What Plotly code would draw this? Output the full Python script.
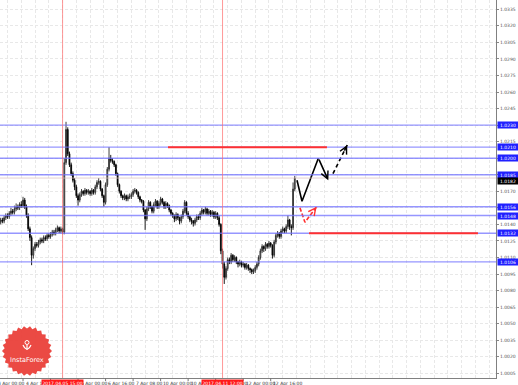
import numpy as np
import plotly.graph_objects as go

# ---------------- data (prices in pips above 1.0000) ----------------
time_ticks = [0, 16, 32, 48, 64, 80, 96, 112, 128, 144, 160]
time_labels = ["4 Apr 00:00", "4 Apr 16:00", "5 Apr 08:00", "6 Apr 00:00", "6 Apr 16:00",
               "7 Apr 08:00", "10 Apr 00:00", "10 Apr 16:00", "11 Apr 08:00",
               "12 Apr 00:00", "12 Apr 16:00"]

close_pips = [
    139, 140,
    142, 144, 143, 146, 148, 147, 150, 152, 151, 154,
    156, 155, 158, 157, 162, 156, 148, 136, 128, 112,
    118, 122, 121, 124, 126, 125, 128, 127, 130, 129,
    131, 133, 132, 135, 137, 134, 136, 133, 196, 226,
    204, 194, 186, 180, 174, 166, 162, 167, 170, 168,
    171, 169, 170, 168, 171, 169, 174, 178, 179, 172,
    166, 160, 176, 190, 200, 198, 197, 194, 186, 176,
    170, 166, 164, 166, 163, 165, 165, 167,
    170, 171, 169, 165, 162, 161, 153, 145, 154, 160,
    156, 152, 158, 161, 156, 159, 163, 160, 156, 159,
    157, 153, 150, 148, 145, 149, 146, 143, 147, 152,
    160, 150, 147, 144, 143, 141, 144, 147, 146, 150,
    153, 151, 154, 150, 152, 149, 151, 147, 150, 146,
    140, 116, 104, 92, 100, 108, 106, 112, 108, 110,
    106, 104, 106, 103, 104, 101, 103, 100, 99, 97,
    98, 101, 104, 110, 116, 120, 118, 122, 120, 123,
    121, 112, 124, 130, 132, 129, 134, 136, 134, 138,
    144, 138, 137, 172, 182]

high_pips = [
    141, 142,
    144, 146, 146, 148, 150, 150, 152, 155, 154, 157,
    159, 158, 160, 161, 165, 164, 158, 150, 138, 130,
    120, 124, 124, 126, 128, 128, 130, 130, 132, 132,
    133, 135, 135, 137, 139, 138, 138, 137, 200, 233,
    228, 206, 196, 188, 182, 176, 168, 169, 172, 171,
    173, 172, 172, 171, 173, 172, 176, 180, 182, 180,
    173, 167, 178, 192, 210, 203, 200, 198, 195, 187,
    177, 171, 167, 168, 167, 167, 168, 169,
    172, 173, 172, 170, 166, 163, 162, 154, 156, 162,
    161, 157, 160, 163, 162, 161, 165, 164, 161, 161,
    160, 158, 154, 151, 149, 151, 150, 147, 149, 154,
    162, 161, 152, 148, 146, 144, 146, 149, 149, 152,
    155, 154, 156, 155, 154, 153, 153, 152, 152, 151,
    148, 141, 118, 106, 102, 110, 110, 114, 113, 112,
    111, 107, 108, 107, 106, 105, 105, 104, 101, 100,
    100, 103, 106, 112, 118, 122, 121, 124, 123, 125,
    124, 122, 126, 132, 134, 133, 136, 138, 137, 140,
    148, 145, 140, 178, 184]

low_pips = [
    136, 137,
    138, 140, 141, 141, 144, 145, 145, 148, 149, 149,
    152, 153, 153, 155, 155, 154, 146, 134, 125, 103,
    109, 116, 119, 119, 122, 123, 123, 125, 125, 127,
    127, 129, 130, 130, 133, 132, 132, 131, 131, 194,
    202, 192, 184, 178, 171, 164, 157, 160, 165, 166,
    166, 167, 167, 166, 166, 167, 167, 172, 176, 170,
    164, 156, 158, 174, 188, 196, 195, 192, 184, 174,
    168, 164, 162, 162, 161, 161, 163, 163,
    165, 168, 167, 163, 160, 159, 151, 135, 143, 152,
    154, 150, 150, 156, 154, 154, 157, 158, 154, 154,
    155, 151, 148, 146, 142, 143, 144, 140, 141, 145,
    150, 148, 145, 142, 140, 138, 139, 142, 144, 144,
    148, 149, 149, 148, 148, 147, 147, 145, 145, 144,
    138, 113, 100, 86, 90, 98, 104, 104, 106, 106,
    104, 101, 102, 101, 101, 99, 99, 98, 96, 95,
    95, 96, 99, 102, 108, 114, 115, 116, 118, 118,
    119, 109, 110, 122, 128, 127, 127, 132, 132, 132,
    136, 135, 130, 135, 170]

first_open_pips = 137

# horizontal support/resistance levels (blue)
levels = [1.0230, 1.0210, 1.0200, 1.0185, 1.0156, 1.0148, 1.0132, 1.0106]
current_price = 1.0182

# red level segments: (start bar, end bar, price)
red_seg_x0 = [100.3, 182.3]
red_seg_x1 = [192.7, 280.5]
red_seg_y = [1.0210, 1.0132]

# red event lines (bar index) and their labels
event_x = [39, 132]
event_labels = ["2017.04.05 15:00", "2017.04.11 12:00"]

# forecast paths (bar index, price)
fc_black_x = [175.3, 178.2, 187.7, 193.5]
fc_black_y = [1.0180, 1.0161, 1.0200, 1.0180]
fc_dash_x = [196.2, 204.5]
fc_dash_y = [1.0186, 1.0212]
fc_red_x = [177.0, 179.9, 186.7]
fc_red_y = [1.0155, 1.0142, 1.0156]

y_ticks = [round(1.0005 + 0.0015 * k, 4) for k in range(23)]

# ---------------- build ----------------
closes = [1 + p / 10000 for p in close_pips]
highs = [1 + p / 10000 for p in high_pips]
lows = [1 + p / 10000 for p in low_pips]
opens = [1 + first_open_pips / 10000] + closes[:-1]
idx = list(range(len(closes)))

X0, X1 = 2.616, 290.99
Y0, Y1 = 1.000073, 1.034343
PW, PH = 496, 378
GRID = "#e8e8e8"

fig = go.Figure()

# current price line
fig.add_shape(type="line", xref="paper", x0=0, x1=1, yref="y", y0=current_price, y1=current_price,
              line=dict(color="rgba(220,190,190,0.7)", width=1), layer="above")
# blue levels
for lv in levels:
    fig.add_shape(type="line", xref="paper", x0=0, x1=1, yref="y", y0=lv, y1=lv,
                  line=dict(color="rgba(115,115,255,0.75)", width=1.4), layer="above")
# red event lines
for ex in event_x:
    fig.add_shape(type="line", xref="x", x0=ex, x1=ex, yref="paper", y0=0, y1=1,
                  line=dict(color="rgba(255,110,110,0.7)", width=1), layer="above")
# red level segments
for a, b, yv in zip(red_seg_x0, red_seg_x1, red_seg_y):
    fig.add_shape(type="line", xref="x", x0=a, x1=b, yref="y", y0=yv, y1=yv,
                  line=dict(color="#ff3030", width=2), layer="above")

fig.add_trace(go.Candlestick(
    x=idx, open=opens, high=highs, low=lows, close=closes,
    increasing=dict(line=dict(color="#2a2a2a", width=0.9), fillcolor="#b8b8b8"),
    decreasing=dict(line=dict(color="#000000", width=0.9), fillcolor="#000000"),
    whiskerwidth=0, showlegend=False, hoverinfo="skip"))

# forecast black solid
fig.add_trace(go.Scatter(x=fc_black_x[:-1], y=fc_black_y[:-1], mode="lines",
                         line=dict(color="#000000", width=1.6), showlegend=False, hoverinfo="skip"))
fig.add_annotation(x=fc_black_x[-1], y=fc_black_y[-1], ax=fc_black_x[-2], ay=fc_black_y[-2],
                   xref="x", yref="y", axref="x", ayref="y", text="", showarrow=True,
                   arrowhead=5, arrowsize=0.9, arrowwidth=1.6, arrowcolor="#000000")
# forecast black dashed
fig.add_trace(go.Scatter(x=fc_dash_x, y=fc_dash_y, mode="lines",
                         line=dict(color="#000000", width=1.6, dash="4px,3px"),
                         showlegend=False, hoverinfo="skip"))
fig.add_annotation(x=fc_dash_x[-1], y=fc_dash_y[-1],
                   ax=fc_dash_x[-1] - (fc_dash_x[-1] - fc_dash_x[0]) * 0.25,
                   ay=fc_dash_y[-1] - (fc_dash_y[-1] - fc_dash_y[0]) * 0.25,
                   xref="x", yref="y", axref="x", ayref="y", text="", showarrow=True,
                   arrowhead=5, arrowsize=0.9, arrowwidth=1.6, arrowcolor="#000000")
# forecast red dashed
fig.add_trace(go.Scatter(x=fc_red_x, y=fc_red_y, mode="lines",
                         line=dict(color="#ff3030", width=1.6, dash="4px,2px"),
                         showlegend=False, hoverinfo="skip"))
fig.add_annotation(x=fc_red_x[-1], y=fc_red_y[-1],
                   ax=fc_red_x[-1] - (fc_red_x[-1] - fc_red_x[-2]) * 0.3,
                   ay=fc_red_y[-1] - (fc_red_y[-1] - fc_red_y[-2]) * 0.3,
                   xref="x", yref="y", axref="x", ayref="y", text="", showarrow=True,
                   arrowhead=5, arrowsize=0.9, arrowwidth=1.6, arrowcolor="#ff3030")

FONT = "DejaVu Sans"

# level labels on price axis
for lv in levels:
    fig.add_annotation(xref="paper", x=1, xanchor="left", xshift=1, yref="y", y=lv,
                       text=f"{lv:.4f}", showarrow=False, bgcolor="#2020ff",
                       font=dict(family=FONT, size=4.5, color="white"),
                       width=19, height=5, borderpad=0.5)
fig.add_annotation(xref="paper", x=1, xanchor="left", xshift=1, yref="y", y=current_price,
                   yshift=-3, text=f"{current_price:.4f}", showarrow=False, bgcolor="#000000",
                   font=dict(family=FONT, size=4.5, color="white"),
                   width=19, height=5, borderpad=0.5)

# time labels
def to_paper(v):
    return (v - X0) / (X1 - X0)

for t, lab in zip(time_ticks, time_labels):
    fig.add_annotation(xref="paper", x=to_paper(t), xanchor="left", xshift=0.5,
                       yref="paper", y=0, yanchor="top", yshift=-0.5,
                       text=lab, showarrow=False,
                       font=dict(family=FONT, size=4.5, color="#333333"))
    fig.add_shape(type="line", xref="paper", x0=to_paper(t), x1=to_paper(t),
                  yref="paper", y0=0, y1=-3 / PH, line=dict(color="#777777", width=1))

for ex, lab in zip(event_x, event_labels):
    fig.add_annotation(xref="x", x=ex, xanchor="center", yref="paper", y=0, yanchor="top",
                       yshift=-0.5, text=lab, showarrow=False, bgcolor="#ff1a1a",
                       font=dict(family=FONT, size=4.5, color="white"), borderpad=0.5)

# InstaForex badge (decoration)
cx, cy, ro, ri, nt = 27.0, 351.0, 25.0, 22.5, 26
ang = np.linspace(0, 2 * np.pi, 2 * nt, endpoint=False)
rad = np.where(np.arange(2 * nt) % 2 == 0, ro, ri)
px_pts = cx + rad * np.cos(ang)
py_pts = cy + rad * np.sin(ang)
path = "M " + " L ".join(f"{x / PW:.5f},{1 - y / PH:.5f}" for x, y in zip(px_pts, py_pts)) + " Z"
fig.add_shape(type="path", xref="paper", yref="paper", path=path,
              fillcolor="rgba(234,60,54,0.93)", line=dict(width=0))
fig.add_shape(type="circle", xref="paper", yref="paper",
              x0=(cx - 2) / PW, x1=(cx + 2) / PW, y0=1 - (cy - 10.5) / PH, y1=1 - (cy - 6.5) / PH,
              line=dict(color="white", width=1))
fig.add_shape(type="path", xref="paper", yref="paper",
              path=(f"M {(cx - 4) / PW:.5f},{1 - (cy - 6) / PH:.5f} "
                    f"Q {cx / PW:.5f},{1 - (cy + 2) / PH:.5f} {(cx + 4) / PW:.5f},{1 - (cy - 6) / PH:.5f}"),
              line=dict(color="white", width=1.2))
fig.add_shape(type="line", xref="paper", yref="paper",
              x0=cx / PW, x1=cx / PW, y0=1 - (cy - 6) / PH, y1=1 - (cy - 1) / PH,
              line=dict(color="white", width=1.2))
fig.add_annotation(xref="paper", yref="paper", x=cx / PW, y=1 - (cy + 9) / PH,
                   xanchor="center", yanchor="middle",
                   text="InstaForex", showarrow=False,
                   font=dict(family=FONT, size=6.5, color="white"))

fig.update_layout(
    width=518, height=385,
    margin=dict(l=0, r=22, t=0, b=7),
    paper_bgcolor="white", plot_bgcolor="white",
    font=dict(family=FONT, size=4.5, color="#444444"),
    showlegend=False,
    xaxis=dict(range=[X0, X1], rangeslider=dict(visible=False), showticklabels=False,
               ticks="", tick0=7, dtick=8, showgrid=True, gridcolor=GRID,
               griddash="3px,2px", gridwidth=1, zeroline=False,
               showline=True, linecolor="#808080", linewidth=1),
    yaxis=dict(range=[Y0, Y1], side="right", tickmode="array", tickvals=y_ticks,
               ticktext=[f"{v:.4f}" for v in y_ticks],
               tickfont=dict(family=FONT, size=4.5, color="#555555"),
               ticks="outside", ticklen=2, tickcolor="#888888",
               showgrid=True, gridcolor=GRID, griddash="3px,2px", gridwidth=1,
               zeroline=False, showline=True, linecolor="#808080", linewidth=1),
)

fig.write_html("out.html")
